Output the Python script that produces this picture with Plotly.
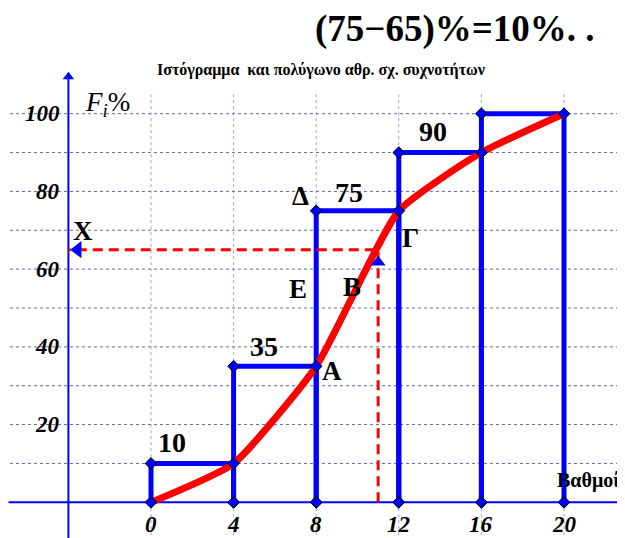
import plotly.graph_objects as go

# ---- data ----
class_edges = [0, 4, 8, 12, 16, 20]
cum_freq = [10, 35, 75, 90, 100]          # F_i %
bar_labels = ["10", "35", "75", "90"]
x_ticks = [0, 4, 8, 12, 16, 20]
x_tick_labels = ["0", "4", "8", "12", "16", "20"]
y_ticks = [20, 40, 60, 80, 100]
y_tick_labels = ["20", "40", "60", "80", "100"]
query_x = 11
query_y = 65

BLUE = "#0000ff"
RED = "#ff0000"
SERIF = "Liberation Serif, Times New Roman, serif"
W, H = 617, 530   # page body has an 8px margin

fig = go.Figure()

# ---- axes (lines + arrowheads) ----
fig.add_trace(go.Scatter(x=[-6.9, 22.7, None, -4, -4], y=[0, 0, None, -10, 109.5], mode="lines",
                         line=dict(color=BLUE, width=2), hoverinfo="skip"))
fig.add_trace(go.Scatter(x=[22.75], y=[0], mode="markers",
                         marker=dict(symbol="triangle-right", size=10, color=BLUE), hoverinfo="skip"))
fig.add_trace(go.Scatter(x=[-4], y=[109.5], mode="markers",
                         marker=dict(symbol="triangle-up", size=10, color=BLUE), hoverinfo="skip"))

# ---- histogram outline ----
hx, hy = [], []
for i, f in enumerate(cum_freq):
    x0, x1 = class_edges[i], class_edges[i + 1]
    hx += [x0, x0, x1, x1, None]
    hy += [0, f, f, 0, None]
fig.add_trace(go.Scatter(x=hx, y=hy, mode="lines",
                         line=dict(color=BLUE, width=5), hoverinfo="skip"))

# ---- dashed reading lines ----
fig.add_trace(go.Scatter(x=[query_x, query_x, -4], y=[0, query_y, query_y], mode="lines",
                         line=dict(color=RED, width=3, dash="10px,6px"), hoverinfo="skip"))

# ---- cumulative polygon (smooth) ----
poly_x = class_edges
poly_y = [0] + cum_freq
fig.add_trace(go.Scatter(x=poly_x, y=poly_y, mode="lines",
                         line=dict(color=RED, width=7, shape="spline", smoothing=0.5),
                         hoverinfo="skip"))

# ---- corner markers ----
mx = [v for v in hx if v is not None]
my = [v for v in hy if v is not None]
fig.add_trace(go.Scatter(x=mx, y=my, mode="markers",
                         marker=dict(symbol="diamond", size=9, color=BLUE,
                                     line=dict(color="black", width=1)),
                         hoverinfo="skip"))

# ---- arrowheads of reading lines ----
fig.add_trace(go.Scatter(x=[-3.55], y=[query_y], mode="markers",
                         marker=dict(symbol="triangle-left", size=15, color=BLUE),
                         hoverinfo="skip"))
fig.add_trace(go.Scatter(x=[query_x], y=[query_y - 3.2], mode="markers",
                         marker=dict(symbol="triangle-up", size=13, color=BLUE),
                         hoverinfo="skip"))

# ---- grid (shapes) ----
shapes = []
for yv in range(10, 101, 10):
    shapes.append(dict(type="line", xref="x", yref="y", x0=-6.83, x1=23.5, y0=yv, y1=yv,
                       line=dict(color="rgba(50,50,150,0.75)", width=1, dash="dot"),
                       layer="below"))
for xv in x_ticks:
    shapes.append(dict(type="line", xref="x", yref="y", x0=xv, x1=xv, y0=-10, y1=105,
                       line=dict(color="rgba(120,120,200,0.7)", width=1, dash="dot"),
                       layer="below"))

annotations = []
tick_font = dict(family=SERIF, size=23, color="black")
for v, t in zip(y_ticks, y_tick_labels):
    annotations.append(dict(x=-4.3, y=v, xref="x", yref="y", text=f"<b><i>{t}</i></b>",
                            showarrow=False, xanchor="right", yanchor="middle", font=tick_font))
for v, t in zip(x_ticks, x_tick_labels):
    annotations.append(dict(x=v, y=-5.8, xref="x", yref="y", text=f"<b><i>{t}</i></b>",
                            showarrow=False, xanchor="center", yanchor="middle", font=tick_font))

big_font = dict(family=SERIF, size=28, color="black")
label_pos = [(1.02, 15.5), (5.47, 40.2), (9.59, 79.6), (13.66, 95.3)]
for (px, py), t in zip(label_pos, bar_labels):
    annotations.append(dict(x=px, y=py, xref="x", yref="y", text=f"<b>{t}</b>",
                            showarrow=False, font=big_font))

letters = [("Δ", 7.26, 78.8), ("Γ", 12.59, 68.1), ("Β", 9.73, 55.3), ("Ε", 7.12, 55.0),
           ("Α", 8.77, 33.8), ("Χ", -3.29, 69.8)]
for t, px, py in letters:
    annotations.append(dict(x=px, y=py, xref="x", yref="y", text=f"<b>{t}</b>",
                            showarrow=False, font=dict(family=SERIF, size=27, color="black")))

annotations.append(dict(x=19.56, y=5.7, xref="x", yref="y", text="<b>Βαθμοί</b>",
                        showarrow=False, xanchor="left", yanchor="middle",
                        font=dict(family=SERIF, size=20, color="black")))
annotations.append(dict(x=-3.3, y=102.5, xref="x", yref="y", text="<i>F<sub>i</sub></i>%",
                        showarrow=False, xanchor="left", yanchor="middle",
                        font=dict(family=SERIF, size=27, color="black")))

annotations.append(dict(x=(321 - 8) / W, y=1 - (70 - 8) / H, xref="paper", yref="paper",
                        text="<b>Ιστόγραμμα  και πολύγωνο αθρ. σχ. συχνοτήτων</b>",
                        showarrow=False, xanchor="center", yanchor="middle",
                        font=dict(family=SERIF, size=16, color="black")))
annotations.append(dict(x=(313 - 8) / W, y=1 - (29 - 8) / H, xref="paper", yref="paper",
                        text="<b>(75−65)%=10%. .</b>",
                        showarrow=False, xanchor="left", yanchor="middle",
                        font=dict(family=SERIF, size=37, color="black")))

fig.update_layout(
    width=W, height=H,
    margin=dict(l=0, r=0, t=0, b=0),
    paper_bgcolor="white", plot_bgcolor="white",
    showlegend=False,
    xaxis=dict(range=[-6.925, 22.954], visible=False, fixedrange=True),
    yaxis=dict(range=[-9.19, 127.2], visible=False, fixedrange=True),
    shapes=shapes,
    annotations=annotations,
)

fig.write_html("out.html")
